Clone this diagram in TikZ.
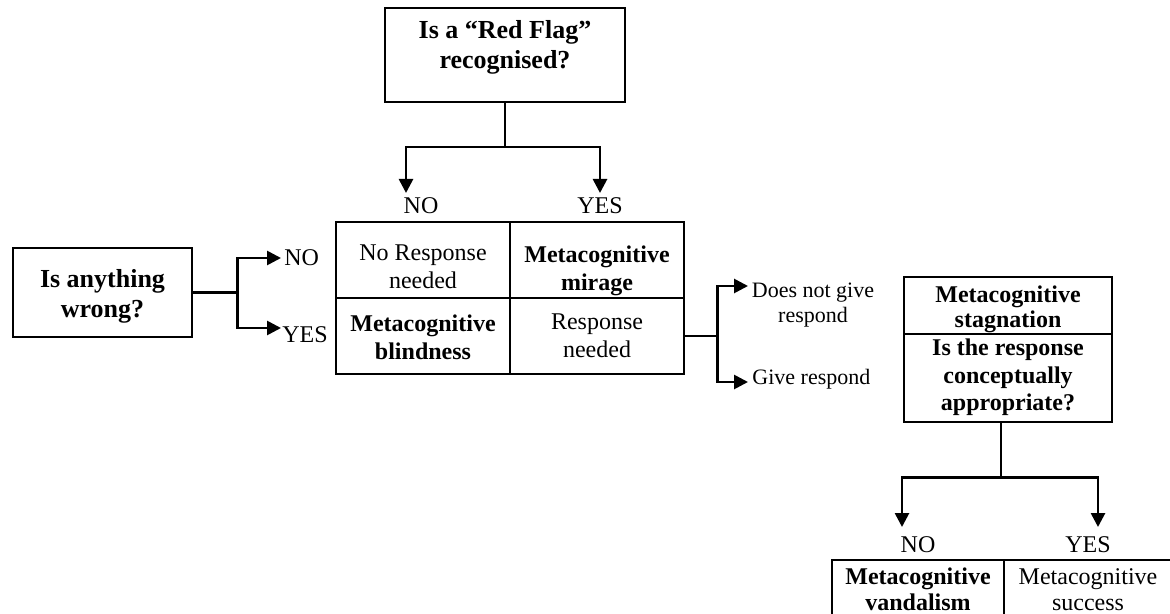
\documentclass[tikz,border=0pt]{standalone}
\usepackage{fontspec}
\setmainfont{Liberation Serif}
\usetikzlibrary{arrows.meta}
\begin{document}
\begin{tikzpicture}[x=0.5pt,y=-0.5pt,
  boxed/.style={draw,line width=1.15pt,inner sep=0pt},
  conn/.style={line width=1.35pt},
  arr/.style={conn,-{Triangle[length=7pt,width=7pt]}},
  bt/.style={font=\bfseries\fontsize{12}{14}\selectfont,align=center,inner sep=0pt},
  rt/.style={font=\fontsize{12}{14}\selectfont,align=center,inner sep=0pt},
  bigt/.style={font=\bfseries\fontsize{13}{15}\selectfont,align=center,inner sep=0pt},
  lab/.style={font=\fontsize{12}{14}\selectfont,inner sep=0pt},
  slab/.style={font=\fontsize{11}{12.5}\selectfont,align=center,inner sep=0pt}]
\clip (0,0) rectangle (1170,614);
\fill[white] (0,0) rectangle (1170,614);

% top question
\node[boxed,minimum width=120pt,minimum height=47pt] (rf) at (505,55) {};
\node[bigt] (rft) at (505,47) {Is a “Red Flag”\\recognised?};
\coordinate (tno) at (406,193);
\coordinate (tyes) at (600,193);
\draw[arr] (rf.south) -- ([yshift=-22pt]rf.south) -| (tno);
\draw[arr] ([yshift=-22pt]rf.south) -| (tyes);
\node[lab] (lno1) at (421,206) {NO};
\node[lab] (lyes1) at (600,206) {YES};

% middle table
\node[boxed,minimum width=87pt,minimum height=38pt] (c11) at (423,260) {};
\node[boxed,minimum width=87pt,minimum height=38pt] (c12) at (597,260) {};
\node[boxed,minimum width=87pt,minimum height=38pt] (c21) at (423,336) {};
\node[boxed,minimum width=87pt,minimum height=38pt] (c22) at (597,336) {};
\node[rt] (t11) at (423,267) {No Response\\needed};
\node[bt] (t12) at (597,271) {Metacognitive\\mirage};
\node[bt] (t21) at (423,337) {Metacognitive\\blindness};
\node[rt] (t22) at (597,336) {Response\\needed};

% left question
\node[boxed,minimum width=89.5pt,minimum height=44.5pt] (q1) at (102.5,292.5) {};
\node[bigt] (q1t) at (102.5,296) {Is anything\\wrong?};
\coordinate (lnoT) at (281,258);
\coordinate (lyesT) at (281,328);
\draw[conn] (q1.east) -- ([xshift=22pt]q1.east);
\draw[arr] ([xshift=22pt]q1.east) |- (lnoT);
\draw[arr] ([xshift=22pt]q1.east) |- (lyesT);
\node[lab,anchor=west] (lno2) at (284,258) {NO};
\node[lab,anchor=west] (lyes2) at (282,335) {YES};

% respond branch
\coordinate (rnoT) at (748,286);
\coordinate (ryesT) at (748,382);
\draw[conn] (c22.east) -- ([xshift=16pt]c22.east);
\draw[arr] ([xshift=16pt]c22.east) |- (rnoT);
\draw[arr] ([xshift=16pt]c22.east) |- (ryesT);
\node[slab] (dng) at (813,305.5) {Does not give\\respond};
\node[slab,anchor=west] (gr) at (752,379) {Give respond};

% right box
\node[boxed,minimum width=104pt,minimum height=28.5pt] (st) at (1008,305.5) {};
\node[boxed,minimum width=104pt,minimum height=44pt] (bq) at (1008,378) {};
\node[bt,font=\bfseries\fontsize{12}{12.5}\selectfont] (stt) at (1008,309.5) {Metacognitive\\stagnation};
\node[bt,font=\bfseries\fontsize{12}{13.8}\selectfont] (bqt) at (1008,377.5) {Is the response\\conceptually\\appropriate?};
\coordinate (bno) at (902,527);
\coordinate (byes) at (1098,527);
\draw[arr] ([xshift=-3.5pt]bq.south) -- ([xshift=-3.5pt,yshift=-27pt]bq.south) -| (bno);
\draw[arr] ([xshift=-3.5pt,yshift=-27pt]bq.south) -| (byes);
\node[lab] (lno3) at (918,545) {NO};
\node[lab] (lyes3) at (1088,545) {YES};

% bottom table
\node[boxed,minimum width=86pt,minimum height=30pt] (d1) at (918,590) {};
\node[boxed,minimum width=86pt,minimum height=30pt] (d2) at (1090,590) {};
\node[bt,font=\bfseries\fontsize{12}{13}\selectfont] (d1t) at (918,589.5) {Metacognitive\\vandalism};
\node[rt,font=\fontsize{12}{13}\selectfont] (d2t) at (1088,589.5) {Metacognitive\\success};
\end{tikzpicture}
\end{document}
